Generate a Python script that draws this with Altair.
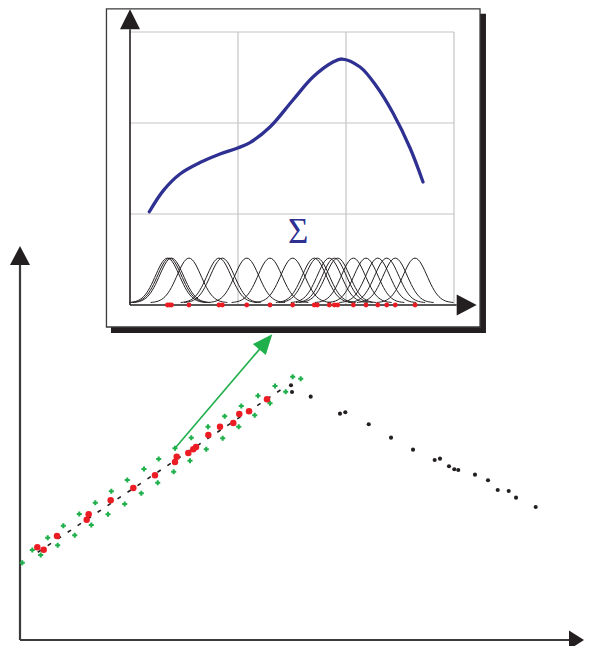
import altair as alt
import numpy as np
import pandas as pd

# ---------------- main panel (arbitrary units: x 0..100, y 0..100) ----------------
red_x = [3.04, 4.16, 6.49, 11.70, 12.05, 15.91, 19.88, 23.68, 27.19, 27.49,
         29.53, 30.40, 30.88, 33.04, 35.09, 37.42, 38.47, 40.18, 43.33]
red_y = [23.18, 22.58, 26.00, 30.08, 31.43, 34.93, 38.00, 41.18, 44.50, 45.83,
         46.75, 47.68, 48.25, 51.25, 53.33, 54.25, 56.50, 57.18, 60.18]

green_x = [0.40, 2.16, 3.63, 4.86, 6.61, 7.60, 9.60, 10.40, 12.51, 13.21, 15.44, 16.02,
           18.37, 18.82, 21.28, 21.75, 24.16, 24.33, 26.96, 27.19, 29.82, 30.05, 32.68,
           32.98, 35.56, 35.91, 38.37, 38.82, 41.18, 41.75, 43.86, 44.74, 46.61, 47.84, 49.25]
green_y = [19.33, 22.50, 21.25, 25.58, 23.68, 28.58, 26.18, 31.50, 28.75, 34.33, 31.43, 37.18,
           34.00, 40.00, 36.68, 42.75, 39.33, 45.25, 42.08, 47.93, 44.83, 50.58, 47.68,
           53.33, 50.43, 55.93, 53.33, 58.50, 56.18, 61.08, 59.18, 63.50, 62.08, 65.83, 65.33]

black_x = [47.54, 47.72, 51.00, 56.14, 57.07, 61.18, 65.09, 68.95, 72.75, 73.68,
           75.26, 76.19, 76.89, 79.82, 82.11, 83.81, 85.74, 87.02, 90.47]
black_y = [63.68, 62.00, 60.83, 56.58, 56.93, 53.93, 50.58, 47.58, 45.00, 45.33,
           43.43, 42.68, 42.50, 41.33, 39.93, 37.50, 37.25, 35.58, 33.25]

fit_x = [3.11, 46.49]
fit_y = [21.93, 63.25]

link_x = [27.19, 43.12]
link_y = [47.93, 74.53]
link_tip = (44.26, 76.43)

main_x_axis_end = 96.49
main_y_axis_end = 93.75
main_x_tip = (98.95, 0.0)
main_y_tip = (0.0, 98.5)

# ---------------- inset panel (units: x 0..3, y 0..3) ----------------
kernel_centers = [0.347, 0.366, 0.384, 0.546, 0.824, 0.855, 1.081, 1.296, 1.506, 1.706,
                  1.734, 1.845, 1.892, 1.923, 2.068, 2.185, 2.294, 2.377, 2.456, 2.639]

curve_x = [0.179, 0.31, 0.463, 0.648, 0.833, 0.997, 1.111, 1.296, 1.509, 1.694,
           1.88, 1.963, 2.13, 2.287, 2.435, 2.593, 2.713]
curve_y = [1.025, 1.26, 1.44, 1.565, 1.66, 1.725, 1.785, 1.956, 2.253, 2.505,
           2.67, 2.703, 2.615, 2.396, 2.11, 1.725, 1.352]

grid_levels = [1, 2, 3]
inset_axis_end = (3.025, 3.03)
inset_x_tip = (3.21, 0.0)
inset_y_tip = (0.0, 3.249)
sigma_pos = (1.557, 0.681)

box = dict(x=-0.218, x2=3.241, y=-0.242, y2=3.255)
shadow = dict(x=-0.176, x2=3.296, y=-0.308, y2=3.20)

kernel_sigma = 0.111
kernel_height = 0.49
kernel_base = 0.025

# ---------------- colours ----------------
RED = "#EC1C24"
GREEN = "#1FAF4B"
BLACK = "#231F20"
AXIS = "#3A3A3A"
BLUE = "#2E3192"
GRID = "#C4C4C4"


def MX():
    return alt.Scale(domain=[0, 100], range=[12, 582], nice=False, zero=False)


def MY():
    return alt.Scale(domain=[0, 100], range=[632, 232], nice=False, zero=False)


def IX():
    return alt.Scale(domain=[0, 3], range=[122, 446], nice=False, zero=False)


def IY():
    return alt.Scale(domain=[0, 3], range=[297, 24], nice=False, zero=False)


def xy(sx, sy, with2=False):
    e = dict(x=alt.X("x:Q", scale=sx(), axis=None),
             y=alt.Y("y:Q", scale=sy(), axis=None))
    if with2:
        e["x2"] = alt.X2("x2:Q")
        e["y2"] = alt.Y2("y2:Q")
    return e


UP = "M0,0L0.5,1L-0.5,1Z"
UP_MAIN = "M0,0L0.526,1L-0.526,1Z"
RIGHT = "M0,0L-1,0.525L-1,-0.525Z"
RIGHT_MAIN = "M0,0L-1,0.64L-1,-0.64Z"
UP_GREEN = "M0,0L0.425,1L-0.425,1Z"

layers = []

# main axes
main_axes = pd.DataFrame({"x": [0, 0], "y": [0, 0],
                          "x2": [main_x_axis_end, 0], "y2": [0, main_y_axis_end]})
layers.append(alt.Chart(main_axes).mark_rule(color=AXIS, strokeWidth=2.2)
              .encode(**xy(MX, MY, True)))
layers.append(alt.Chart(pd.DataFrame({"x": [main_y_tip[0]], "y": [main_y_tip[1]]}))
              .mark_point(shape=UP_MAIN, size=1444, filled=True, opacity=1, color=BLACK, strokeWidth=0)
              .encode(**xy(MX, MY)))
layers.append(alt.Chart(pd.DataFrame({"x": [main_x_tip[0]], "y": [main_x_tip[1]]}))
              .mark_point(shape=RIGHT_MAIN, size=900, filled=True, opacity=1, color=BLACK, strokeWidth=0)
              .encode(**xy(MX, MY)))

# dashed fit line
layers.append(alt.Chart(pd.DataFrame({"x": fit_x, "y": fit_y}))
              .mark_line(color=BLACK, strokeWidth=1.6, strokeDash=[4, 8])
              .encode(**xy(MX, MY)))

# green band points
layers.append(alt.Chart(pd.DataFrame({"x": green_x, "y": green_y}))
              .mark_point(shape="cross", size=26, filled=True, opacity=1, color=GREEN, strokeWidth=0)
              .encode(**xy(MX, MY)))

# black points
layers.append(alt.Chart(pd.DataFrame({"x": black_x, "y": black_y}))
              .mark_circle(size=17, opacity=1, color=BLACK)
              .encode(**xy(MX, MY)))

# red points
layers.append(alt.Chart(pd.DataFrame({"x": red_x, "y": red_y}))
              .mark_circle(size=42, opacity=1, color=RED)
              .encode(**xy(MX, MY)))

# inset shadow and box
layers.append(alt.Chart(pd.DataFrame([shadow]))
              .mark_rect(color=BLACK, opacity=1)
              .encode(**xy(IX, IY, True)))
layers.append(alt.Chart(pd.DataFrame([box]))
              .mark_rect(fill="white", stroke=AXIS, strokeWidth=1.3, opacity=1)
              .encode(**xy(IX, IY, True)))

# green link arrow
layers.append(alt.Chart(pd.DataFrame({"x": link_x, "y": link_y}))
              .mark_line(color=GREEN, strokeWidth=1.6)
              .encode(**xy(MX, MY)))
layers.append(alt.Chart(pd.DataFrame({"x": [link_tip[0]], "y": [link_tip[1]]}))
              .mark_point(shape=UP_GREEN, size=1600, angle=40.5, filled=True, opacity=1,
                          color=GREEN, strokeWidth=0)
              .encode(**xy(MX, MY)))

# grid
grid_rows = []
for g in grid_levels:
    grid_rows.append({"x": g, "y": 0, "x2": g, "y2": 3})
    grid_rows.append({"x": 0, "y": g, "x2": 3, "y2": g})
layers.append(alt.Chart(pd.DataFrame(grid_rows))
              .mark_rule(color=GRID, strokeWidth=1.2)
              .encode(**xy(IX, IY, True)))

# kernels
krows = []
for k, c in enumerate(kernel_centers):
    for t in np.linspace(-3.2, 3.2, 49):
        krows.append({"k": k, "x": c + t * kernel_sigma,
                      "y": kernel_base + kernel_height * np.exp(-0.5 * t * t)})
layers.append(alt.Chart(pd.DataFrame(krows))
              .mark_line(color=BLACK, strokeWidth=1.0)
              .encode(detail="k:N", order="x:Q", **xy(IX, IY)))

# inset axes
inset_axes = pd.DataFrame({"x": [0, 0], "y": [0, 0],
                           "x2": [inset_axis_end[0], 0], "y2": [0, inset_axis_end[1]]})
layers.append(alt.Chart(inset_axes).mark_rule(color=BLACK, strokeWidth=1.6)
              .encode(**xy(IX, IY, True)))
layers.append(alt.Chart(pd.DataFrame({"x": [inset_y_tip[0]], "y": [inset_y_tip[1]]}))
              .mark_point(shape=UP, size=1600, filled=True, opacity=1, color=BLACK, strokeWidth=0)
              .encode(**xy(IX, IY)))
layers.append(alt.Chart(pd.DataFrame({"x": [inset_x_tip[0]], "y": [inset_x_tip[1]]}))
              .mark_point(shape=RIGHT, size=1600, filled=True, opacity=1, color=BLACK, strokeWidth=0)
              .encode(**xy(IX, IY)))

# blue summed curve
layers.append(alt.Chart(pd.DataFrame({"x": curve_x, "y": curve_y}))
              .mark_line(color=BLUE, strokeWidth=3.3, interpolate="catmull-rom", strokeCap="round")
              .encode(**xy(IX, IY)))

# sigma label
layers.append(alt.Chart(pd.DataFrame({"x": [sigma_pos[0]], "y": [sigma_pos[1]], "t": ["Σ"]}))
              .mark_text(font="Liberation Serif", fontSize=35, color=BLUE, align="center",
                         baseline="alphabetic")
              .encode(text="t:N", **xy(IX, IY)))

# inset red dots
layers.append(alt.Chart(pd.DataFrame({"x": kernel_centers, "y": [0] * len(kernel_centers)}))
              .mark_circle(size=24, opacity=1, color=RED)
              .encode(**xy(IX, IY)))

chart = (alt.layer(*layers)
         .resolve_scale(x="independent", y="independent")
         .properties(width=576, height=638, padding=0,
                     autosize=alt.AutoSizeParams(type="none"))
         .configure_view(strokeWidth=0))

chart.save("out.html", embed_options={"renderer": "svg", "actions": False})
